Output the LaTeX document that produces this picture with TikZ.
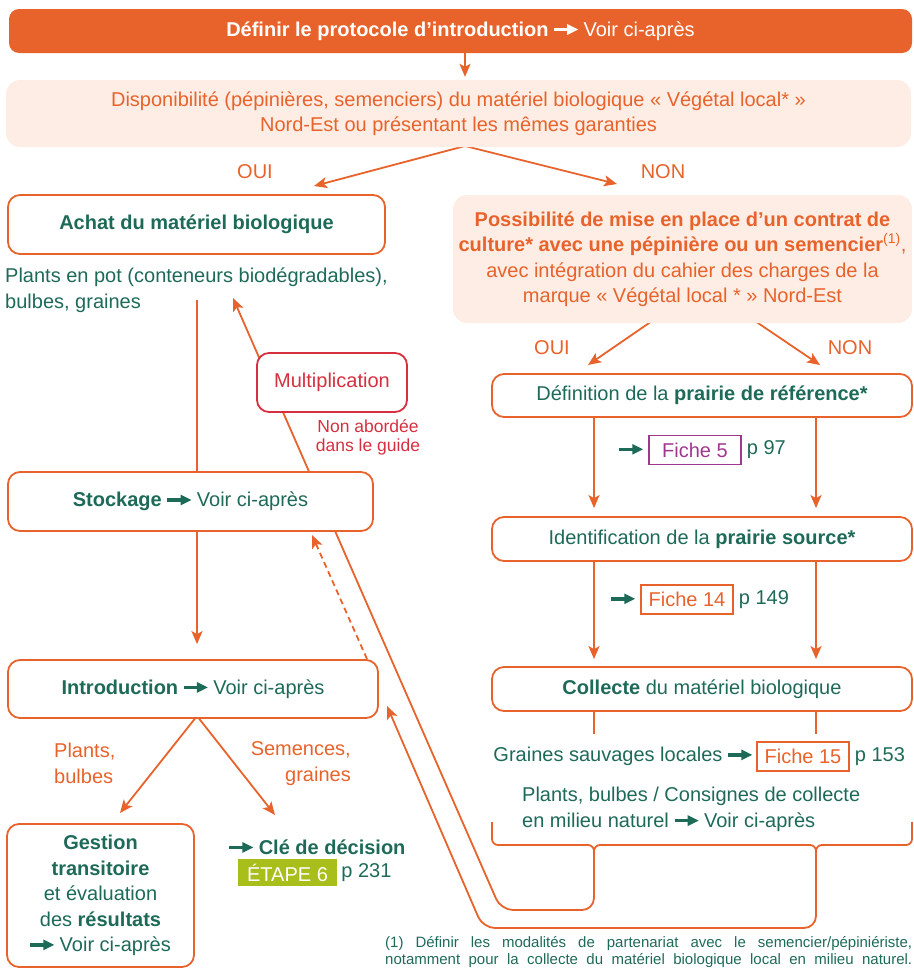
\documentclass[tikz,border=0pt]{standalone}
\usepackage{fontspec}
\setmainfont{Liberation Sans}
\usetikzlibrary{arrows.meta,backgrounds,calc}
\definecolor{orng}{HTML}{E8632B}
\definecolor{peach}{HTML}{FDEDE4}
\definecolor{dgreen}{HTML}{1E6A58}
\definecolor{mred}{HTML}{D62F40}
\definecolor{mpurple}{HTML}{A0378E}
\definecolor{lime}{HTML}{A8BE1B}
\newcommand{\fmain}{\fontsize{20}{25.5}\selectfont}
\newcommand{\fsmall}{\fontsize{17.5}{19}\selectfont}
\newcommand{\fnote}{\fontsize{15}{18}\selectfont}
% thick arrow used inline in the texts
\newcommand{\garr}{\tikz[baseline={(0,-0.34em)},sharp corners]{\fill (0,-0.09em) rectangle (0.75em,0.09em); \fill (0.66em,-0.27em) -- (1.2em,0) -- (0.66em,0.27em) -- cycle;}}

\begin{document}
\begin{tikzpicture}[x=1pt,y=-1pt,
  every node/.style={font=\fmain, inner sep=0pt, text=dgreen},
  box/.style={draw=orng, line width=1.8pt, rounded corners=12pt, fill=white, align=center},
  peachbox/.style={fill=peach, rounded corners=14pt, text=orng, align=center},
  conn/.style={draw=orng, line width=1.8pt},
  arr/.style={conn, -{Stealth[length=13pt,width=11pt,inset=3pt]}},
  fiche/.style={line width=1.5pt, minimum width=92pt, minimum height=29pt},
  ]
\useasboundingbox (0,0) rectangle (913,969);

% ---------- header ----------
\node[fill=orng, rounded corners=10pt, minimum width=903, minimum height=44, text=white]
  (top) at (460.5,31) {{\bfseries Définir le protocole d’introduction} \garr{} Voir ci-après};
\node[peachbox, minimum width=905, minimum height=67] (dispo) at (458.5,113.5)
  {Disponibilité (pépinières, semenciers) du matériel biologique «~Végétal local*~»\\Nord-Est ou présentant les mêmes garanties};
\node[text=orng] (oui1) at (255,172) {OUI};
\node[text=orng] (non1) at (663,172) {NON};

% ---------- left column ----------
\node[box, minimum width=377, minimum height=59] (achat) at (196.5,224.5) {\bfseries Achat du matériel biologique};
\node[anchor=west, align=left] (pot) at (5,290) {Plants en pot (conteneurs biodégradables),\\bulbes, graines};
\node[box, draw=mred, text=mred, minimum width=150, minimum height=59] (mult) at (332,382.5) {Multiplication};
\node[font=\fsmall, text=mred, align=center] (nonab) at (368,437.5) {Non abordée\\dans le guide};
\node[box, minimum width=365, minimum height=59] (stock) at (190.5,501.5) {{\bfseries Stockage} \garr{} Voir ci-après};
\node[box, minimum width=370, minimum height=58] (intro) at (193,689) {{\bfseries Introduction} \garr{} Voir ci-après};
\node[anchor=west, align=left, text=orng] (lblp) at (54,763.5) {Plants,\\bulbes};
\node[anchor=east, align=right, text=orng] (lbls) at (351,763.5) {Semences,\\graines};
\node[box, minimum width=187, minimum height=143] (gest) at (100.5,895.5)
  {{\bfseries Gestion}\\{\bfseries transitoire}\\et évaluation\\des {\bfseries résultats}\\\garr{} Voir ci-après};
\node[anchor=west] (cle) at (229,847) {\garr{} {\bfseries Clé de décision}};
\node[fill=lime, text=white, minimum width=99, minimum height=27] (etape) at (287.5,872.5) {ÉTAPE 6};
\node[anchor=west] (p231) at ([xshift=4pt]etape.east) {p 231};

% ---------- right column ----------
\node[peachbox, minimum width=459, minimum height=128] (contrat) at (682.5,259)
  {{\bfseries Possibilité de mise en place d’un contrat de}\\{\bfseries culture* avec une pépinière ou un semencier}\textsuperscript{(1)},\\avec intégration du cahier des charges de la\\marque «~Végétal local *~» Nord-Est};
\node[text=orng] (oui2) at (552,348) {OUI};
\node[text=orng] (non2) at (850,348) {NON};
\node[box, minimum width=420, minimum height=43] (def) at (702,395.5) {Définition de la {\bfseries prairie de référence*}};
\node[fiche, draw=mpurple, text=mpurple] (f5) at (695,450) {Fiche 5};
\node[anchor=east] (a5) at ([xshift=-5pt]f5.west) {\garr};
\node[anchor=west] (p5) at ([xshift=5pt]f5.east) {p 97};
\node[box, minimum width=420, minimum height=44] (ident) at (702,539) {Identification de la {\bfseries prairie source*}};
\node[fiche, draw=orng, text=orng] (f14) at (687,599.5) {Fiche 14};
\node[anchor=east] (a14) at ([xshift=-5pt]f14.west) {\garr};
\node[anchor=west] (p14) at ([xshift=5pt]f14.east) {p 149};
\node[box, minimum width=420, minimum height=44] (coll) at (702,689) {{\bfseries Collecte} du matériel biologique};
\node[fiche, draw=orng, text=orng] (f15) at (803,756.5) {Fiche 15};
\node[anchor=east] (graines) at ([xshift=-4pt]f15.west) {Graines sauvages locales \garr};
\node[anchor=west] (p15) at ([xshift=5pt]f15.east) {p 153};
\node[anchor=west, align=left] (consig) at (522,809.5) {Plants, bulbes / Consignes de collecte\\en milieu naturel \garr{} Voir ci-après};

% ---------- footnote ----------
\node[anchor=west, font=\fnote] (note1) at (385,944)
  {\makebox[527pt][s]{(1) Définir les modalités de partenariat avec le semencier/pépiniériste,}};
\node[anchor=west, font=\fnote] (note2) at (385,961)
  {\makebox[527pt][s]{notamment pour la collecte du matériel biologique local en milieu naturel.}};

% ---------- connectors ----------
\coordinate (cx) at (197,0);
\coordinate (lx) at (594,0);
\coordinate (rx) at (816,0);
\coordinate (dsplit) at (465,146);
\coordinate (ouitip) at (314,186);
\coordinate (nontip) at (617,184);
\coordinate (csl) at (652,321);
\coordinate (csr) at (755,321);
\coordinate (oui2tip) at (588,365);
\coordinate (non2tip) at (820,365);
\coordinate (potbot) at (197,300);
\coordinate (multtip) at (233,298);
\coordinate (dashst) at (367,659);
\coordinate (dashtip) at (312,535);
\coordinate (isplit) at (197,716);
\coordinate (gesttip) at (120,813);
\coordinate (cletip) at (275,815);
\coordinate (introtip) at (387,706);
\coordinate (bl) at (492,822);
\coordinate (br) at (912,822);

\begin{pgfonlayer}{background}
\draw[arr, shorten >=3pt] (top.south -| dsplit) -- (dispo.north -| dsplit);
\draw[arr] (dsplit) -- (ouitip);
\draw[arr] (dsplit) -- (nontip);
\draw[arr] (csl) -- (oui2tip);
\draw[arr] (csr) -- (non2tip);
\draw[arr, shorten >=8pt] (def.south -| lx) -- (ident.north -| lx);
\draw[arr, shorten >=8pt] (def.south -| rx) -- (ident.north -| rx);
\draw[arr, shorten >=7pt] (ident.south -| lx) -- (coll.north -| lx);
\draw[arr, shorten >=7pt] (ident.south -| rx) -- (coll.north -| rx);
\draw[conn] (coll.south -| lx) -- ++(0,22);
\draw[conn] (coll.south -| rx) -- ++(0,22);
% brace under the collecte texts
\draw[conn, rounded corners=6pt] (bl) -- (492,845) -- (594,845) -- (594,857);
\draw[conn, rounded corners=6pt] (594,857) -- (594,845) -- (816,845) -- (816,857);
\draw[conn, rounded corners=6pt] (816,857) -- (816,845) -- (912,845) -- (br);
% return loops
\draw[arr, rounded corners=12pt] (594,855) -- (594,910) -- (501,910) -- (multtip);
\draw[arr, rounded corners=12pt] (816,855) -- (816,928) -- (483,928) -- (introtip);
% left column flow
\draw[conn] (potbot) -- (stock.north -| cx);
\draw[arr, shorten >=15pt] (stock.south -| cx) -- (intro.north -| cx);
\draw[arr, dashed, dash pattern=on 6pt off 4pt] (dashst) -- (dashtip);
\draw[arr] (isplit) -- (gesttip);
\draw[arr] (isplit) -- (cletip);
\end{pgfonlayer}
\end{tikzpicture}
\end{document}
